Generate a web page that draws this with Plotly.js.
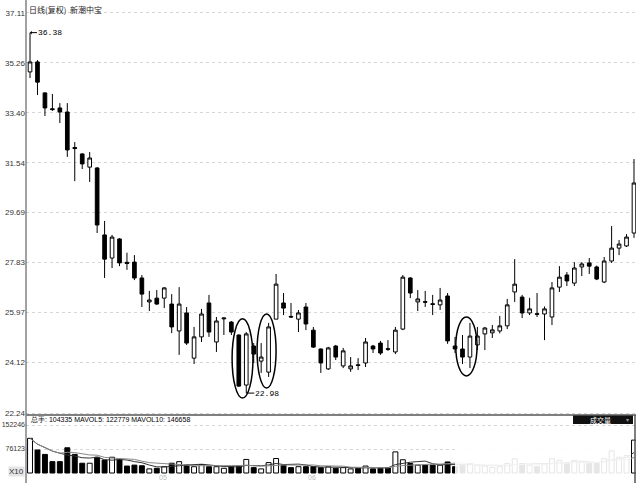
<!DOCTYPE html>
<html>
<head>
<meta charset="utf-8">
<script src="https://cdn.plot.ly/plotly-3.0.1.min.js"></script>
<style>html,body{margin:0;padding:0;background:#fff;}#chart{width:640px;height:483px;}</style>
</head>
<body>
<div id="chart"></div>
<script>
// ---- data ----
const candleOpen = [34.92,35.29,34.14,33.55,33.58,33.43,32.11,31.87,31.38,31.35,
  28.86,28.00,28.71,27.84,27.85,27.26,26.37,26.51,26.51,26.29,
  25.29,25.96,24.28,25.07,26.33,24.88,25.74,25.62,25.14,23.28,
  24.73,24.17,23.76,25.73,26.33,25.83,25.73,26.18,25.32,24.62,
  23.88,24.73,23.99,23.88,24.03,24.10,24.73,24.84,24.63,24.51,
  25.36,27.26,26.37,26.38,26.30,26.26,26.59,24.73,24.62,24.32,
  24.77,25.18,25.22,25.29,25.48,26.74,26.55,25.96,25.93,25.92,
  25.81,26.92,27.37,27.07,27.67,27.82,27.67,27.11,27.89,28.37,
  28.45,28.93];
const candleHigh = [36.38,35.36,34.16,34.10,33.76,33.76,32.31,31.90,31.94,31.38,
  29.38,28.86,28.74,28.20,28.11,27.37,26.78,26.81,26.92,26.66,
  26.92,26.18,25.44,26.11,26.63,25.81,25.79,25.66,25.16,25.25,
  24.84,24.84,25.59,27.41,26.70,26.33,26.07,26.33,25.44,24.64,
  24.70,24.77,24.66,24.32,24.28,25.03,24.77,24.92,24.95,25.44,
  27.37,27.29,26.81,26.78,26.63,26.89,26.70,25.07,25.14,25.59,
  25.44,25.44,25.51,25.85,26.48,27.96,26.63,26.52,26.70,26.20,
  27.11,27.70,27.48,27.85,27.85,28.00,27.72,28.04,29.19,28.67,
  28.89,31.68];
const candleLow = [34.69,34.06,33.28,33.47,33.02,31.76,30.86,31.31,30.83,28.93,
  27.26,27.63,27.70,27.56,27.18,26.18,26.03,26.26,26.14,25.21,
  24.40,24.77,24.06,24.88,25.07,24.51,25.14,25.14,23.21,22.98,
  24.10,23.73,23.58,25.73,25.88,25.77,25.25,25.32,24.66,23.73,
  23.84,24.21,23.91,23.77,23.84,23.95,24.47,24.40,24.55,24.43,
  25.32,26.51,26.03,26.18,25.88,26.07,24.81,24.47,24.06,23.91,
  24.58,24.58,25.03,25.20,25.36,26.37,25.77,25.88,25.81,24.95,
  25.51,26.74,26.96,26.96,27.33,27.41,27.18,27.07,27.82,28.11,
  28.41,28.75];
const candleClose = [35.29,34.54,33.58,33.52,33.43,32.02,32.07,31.50,31.72,29.23,
  27.96,28.78,27.82,27.80,27.26,26.66,26.44,26.29,26.89,25.44,
  26.29,24.84,25.07,25.92,25.25,25.66,25.77,25.25,23.24,25.18,
  24.43,24.32,25.44,27.03,26.14,25.81,25.96,25.55,24.69,24.10,
  24.66,24.32,24.55,23.99,24.01,24.88,24.62,24.47,24.61,25.32,
  27.29,26.70,26.48,26.36,26.28,26.44,24.92,24.62,24.32,25.10,
  25.10,25.40,25.33,25.48,26.26,27.03,25.96,26.11,25.91,26.11,
  26.89,27.29,27.15,27.63,27.78,27.70,27.22,27.89,28.37,28.52,
  28.78,30.79];
const volume = [110000,73000,59000,36000,36000,80000,59000,31000,31000,50000,
  41000,50000,43000,22000,25000,23000,13000,15000,20000,31000,
  36000,25000,20000,27000,20000,20000,15000,20000,22000,43000,
  17000,13000,33000,46000,25000,17000,20000,20000,20000,17000,
  20000,15000,17000,13000,15000,22000,13000,15000,17000,67000,
  42000,30000,25000,25000,25000,25000,35000,20000,25000,30000,
  25000,22000,18000,20000,30000,45000,30000,25000,20000,28000,
  45000,40000,30000,40000,35000,30000,30000,45000,70000,50000,
  55000,104335];
const priceTicks = [37.11,35.26,33.40,31.54,29.69,27.83,25.97,24.12,22.24];
const volTicks = [76123,152246];
const volTickText = ['76123','152246'];
const monthLabels = ['04','05','06'];
const monthPos = [-1.2,17.8,37.8];
const chartTitle = '日线(复权)\u00a0 新潮中宝';
const volHeader = '总手: 104335 MAVOL5: 122779 MAVOL10: 146658';
const highMark = 36.38, lowMark = 22.98;

// ---- derived ----
const idx = candleOpen.map((_, i) => i);
function ma(arr, n){return arr.map((_, i)=>{const s=arr.slice(Math.max(0,i-n+1),i+1);return s.reduce((a,b)=>a+b,0)/s.length;});}
const ma5 = ma(volume,5), ma10 = ma(volume,10);
const volFill = idx.map(i => candleClose[i] >= candleOpen[i] ? '#ffffff' : '#000000');

// pixel helpers for decoration placement
const L=26, R=4, T=0, B=7, W=640, H=483;
const PW=W-L-R, PH=H-T-B;
const px=(x)=>(x-L)/PW;
const py=(y)=>(H-B-y)/PH;
const split = py(415);

const traces = [
  {type:'candlestick', x:idx, open:candleOpen, high:candleHigh, low:candleLow, close:candleClose,
   xaxis:'x', yaxis:'y', whiskerwidth:0,
   increasing:{line:{color:'#000',width:1}, fillcolor:'#ffffff'},
   decreasing:{line:{color:'#000',width:1}, fillcolor:'#000000'},
   hoverinfo:'skip'},
  {type:'bar', x:idx, y:volume, xaxis:'x', yaxis:'y2', width:0.66,
   marker:{color:volFill, line:{color:'#000', width:1}}, hoverinfo:'skip'},
  {type:'scatter', mode:'lines', x:idx, y:ma5, xaxis:'x', yaxis:'y2', line:{color:'#333',width:1}, hoverinfo:'skip'},
  {type:'scatter', mode:'lines', x:idx, y:ma10, xaxis:'x', yaxis:'y2', line:{color:'#888',width:1}, hoverinfo:'skip'}
];

const tickFont = {family:'Liberation Sans, Arial, sans-serif', size:8, color:'#333'};
const volTickFont = {family:'Liberation Sans, Arial, sans-serif', size:7, color:'#333'};
const layout = {
  width:W, height:H, paper_bgcolor:'#fff', plot_bgcolor:'#fff',
  margin:{l:L, r:R, t:T, b:B, pad:0}, showlegend:false,
  xaxis:{range:[-0.54,81.27], showticklabels:false, showgrid:false, zeroline:false, showline:false, ticks:'',
         rangeslider:{visible:false}, fixedrange:true},
  yaxis:{domain:[split,1], range:[22.166,37.593], tickvals:priceTicks, ticktext:priceTicks.map(v=>v.toFixed(2)),
         tickfont:tickFont, showgrid:true, gridcolor:'#d6d6d6', griddash:'dot', gridwidth:1,
         zeroline:false, showline:false, ticks:'', anchor:'x', fixedrange:true},
  yaxis2:{domain:[0,split], range:[-9515,183964], tickvals:volTicks, ticktext:volTickText,
          tickfont:volTickFont, showgrid:true, gridcolor:'#d6d6d6', griddash:'dot', gridwidth:1,
          zeroline:false, showline:false, ticks:'', anchor:'x', fixedrange:true},
  shapes:[
    // fade over the lower right of the volume panel (as in the reference)
    {type:'rect', xref:'paper', yref:'paper', x0:px(455), x1:px(631), y0:py(483), y1:py(446), fillcolor:'#ffffff', opacity:0.9, line:{width:0}, layer:'above'},
    {type:'line', xref:'paper', yref:'paper', x0:0, x1:0, y0:py(483), y1:1, line:{color:'#444', width:1}},
    {type:'line', xref:'paper', yref:'paper', x0:0, x1:1, y0:split, y1:split, line:{color:'#808080', width:2}},
    {type:'line', xref:'paper', yref:'paper', x0:px(635), x1:px(635), y0:py(483), y1:split, line:{color:'#555', width:1.5}},
    {type:'rect', xref:'paper', yref:'paper', x0:px(573), x1:px(633), y0:py(424), y1:py(415.5), fillcolor:'#111', line:{width:0}},
    // hand-drawn ellipses
    {type:'circle', xref:'x', yref:'y', x0:27.1, x1:29.9, y0:22.80, y1:25.74, line:{color:'#000', width:1.5}},
    {type:'circle', xref:'x', yref:'y', x0:30.45, x1:33.0, y0:23.17, y1:25.92, line:{color:'#000', width:1.5}},
    {type:'circle', xref:'x', yref:'y', x0:57.1, x1:59.95, y0:23.62, y1:25.81, line:{color:'#000', width:1.5}}
  ],
  annotations:[
    {xref:'paper', yref:'paper', x:px(27), y:py(2), xanchor:'left', yanchor:'top', text:chartTitle, showarrow:false,
     font:{family:'Noto Sans CJK SC, sans-serif', size:8, color:'#222'}},
    {xref:'x', yref:'y', x:0, y:highMark, ax:7, ay:0, xanchor:'left', yanchor:'middle', text:highMark.toFixed(2),
     showarrow:true, arrowhead:1, arrowsize:0.6, arrowwidth:1, arrowcolor:'#000', borderpad:0, standoff:0,
     font:{family:'Liberation Mono, monospace', size:8, color:'#000'}},
    {xref:'x', yref:'y', x:29, y:lowMark, ax:8, ay:0, xanchor:'left', yanchor:'middle', text:lowMark.toFixed(2),
     showarrow:true, arrowhead:0, arrowwidth:1, arrowcolor:'#000', borderpad:0, standoff:0,
     font:{family:'Liberation Mono, monospace', size:8, color:'#000'}},
    {xref:'paper', yref:'paper', x:px(28), y:py(419.5), xanchor:'left', yanchor:'middle', text:volHeader, showarrow:false,
     font:{family:'Liberation Sans, Arial, sans-serif', size:7, color:'#000'}},
    {xref:'paper', yref:'paper', x:px(600), y:py(419.8), xanchor:'center', yanchor:'middle', text:'成交量', showarrow:false,
     font:{family:'Noto Sans CJK SC, sans-serif', size:7, color:'#fff'}},
    {xref:'paper', yref:'paper', x:px(627), y:py(419.8), xanchor:'center', yanchor:'middle', text:'▾', showarrow:false,
     font:{family:'DejaVu Sans, sans-serif', size:6, color:'#999'}},
    {xref:'paper', yref:'paper', x:px(25), y:py(471), xanchor:'right', yanchor:'middle', text:'X10', showarrow:false,
     bgcolor:'#e4e4e4', borderpad:0, font:{family:'Liberation Sans, Arial, sans-serif', size:8, color:'#333'}}
  ].concat(monthLabels.map((t,i)=>({xref:'x', yref:'paper', x:monthPos[i], y:py(477.5), xanchor:'center', yanchor:'middle',
     text:t, showarrow:false, font:{family:'Liberation Sans, Arial, sans-serif', size:7, color:'#bbb'}})))
};

Plotly.newPlot('chart', traces, layout, {staticPlot:true, displayModeBar:false});
</script>
</body>
</html>
